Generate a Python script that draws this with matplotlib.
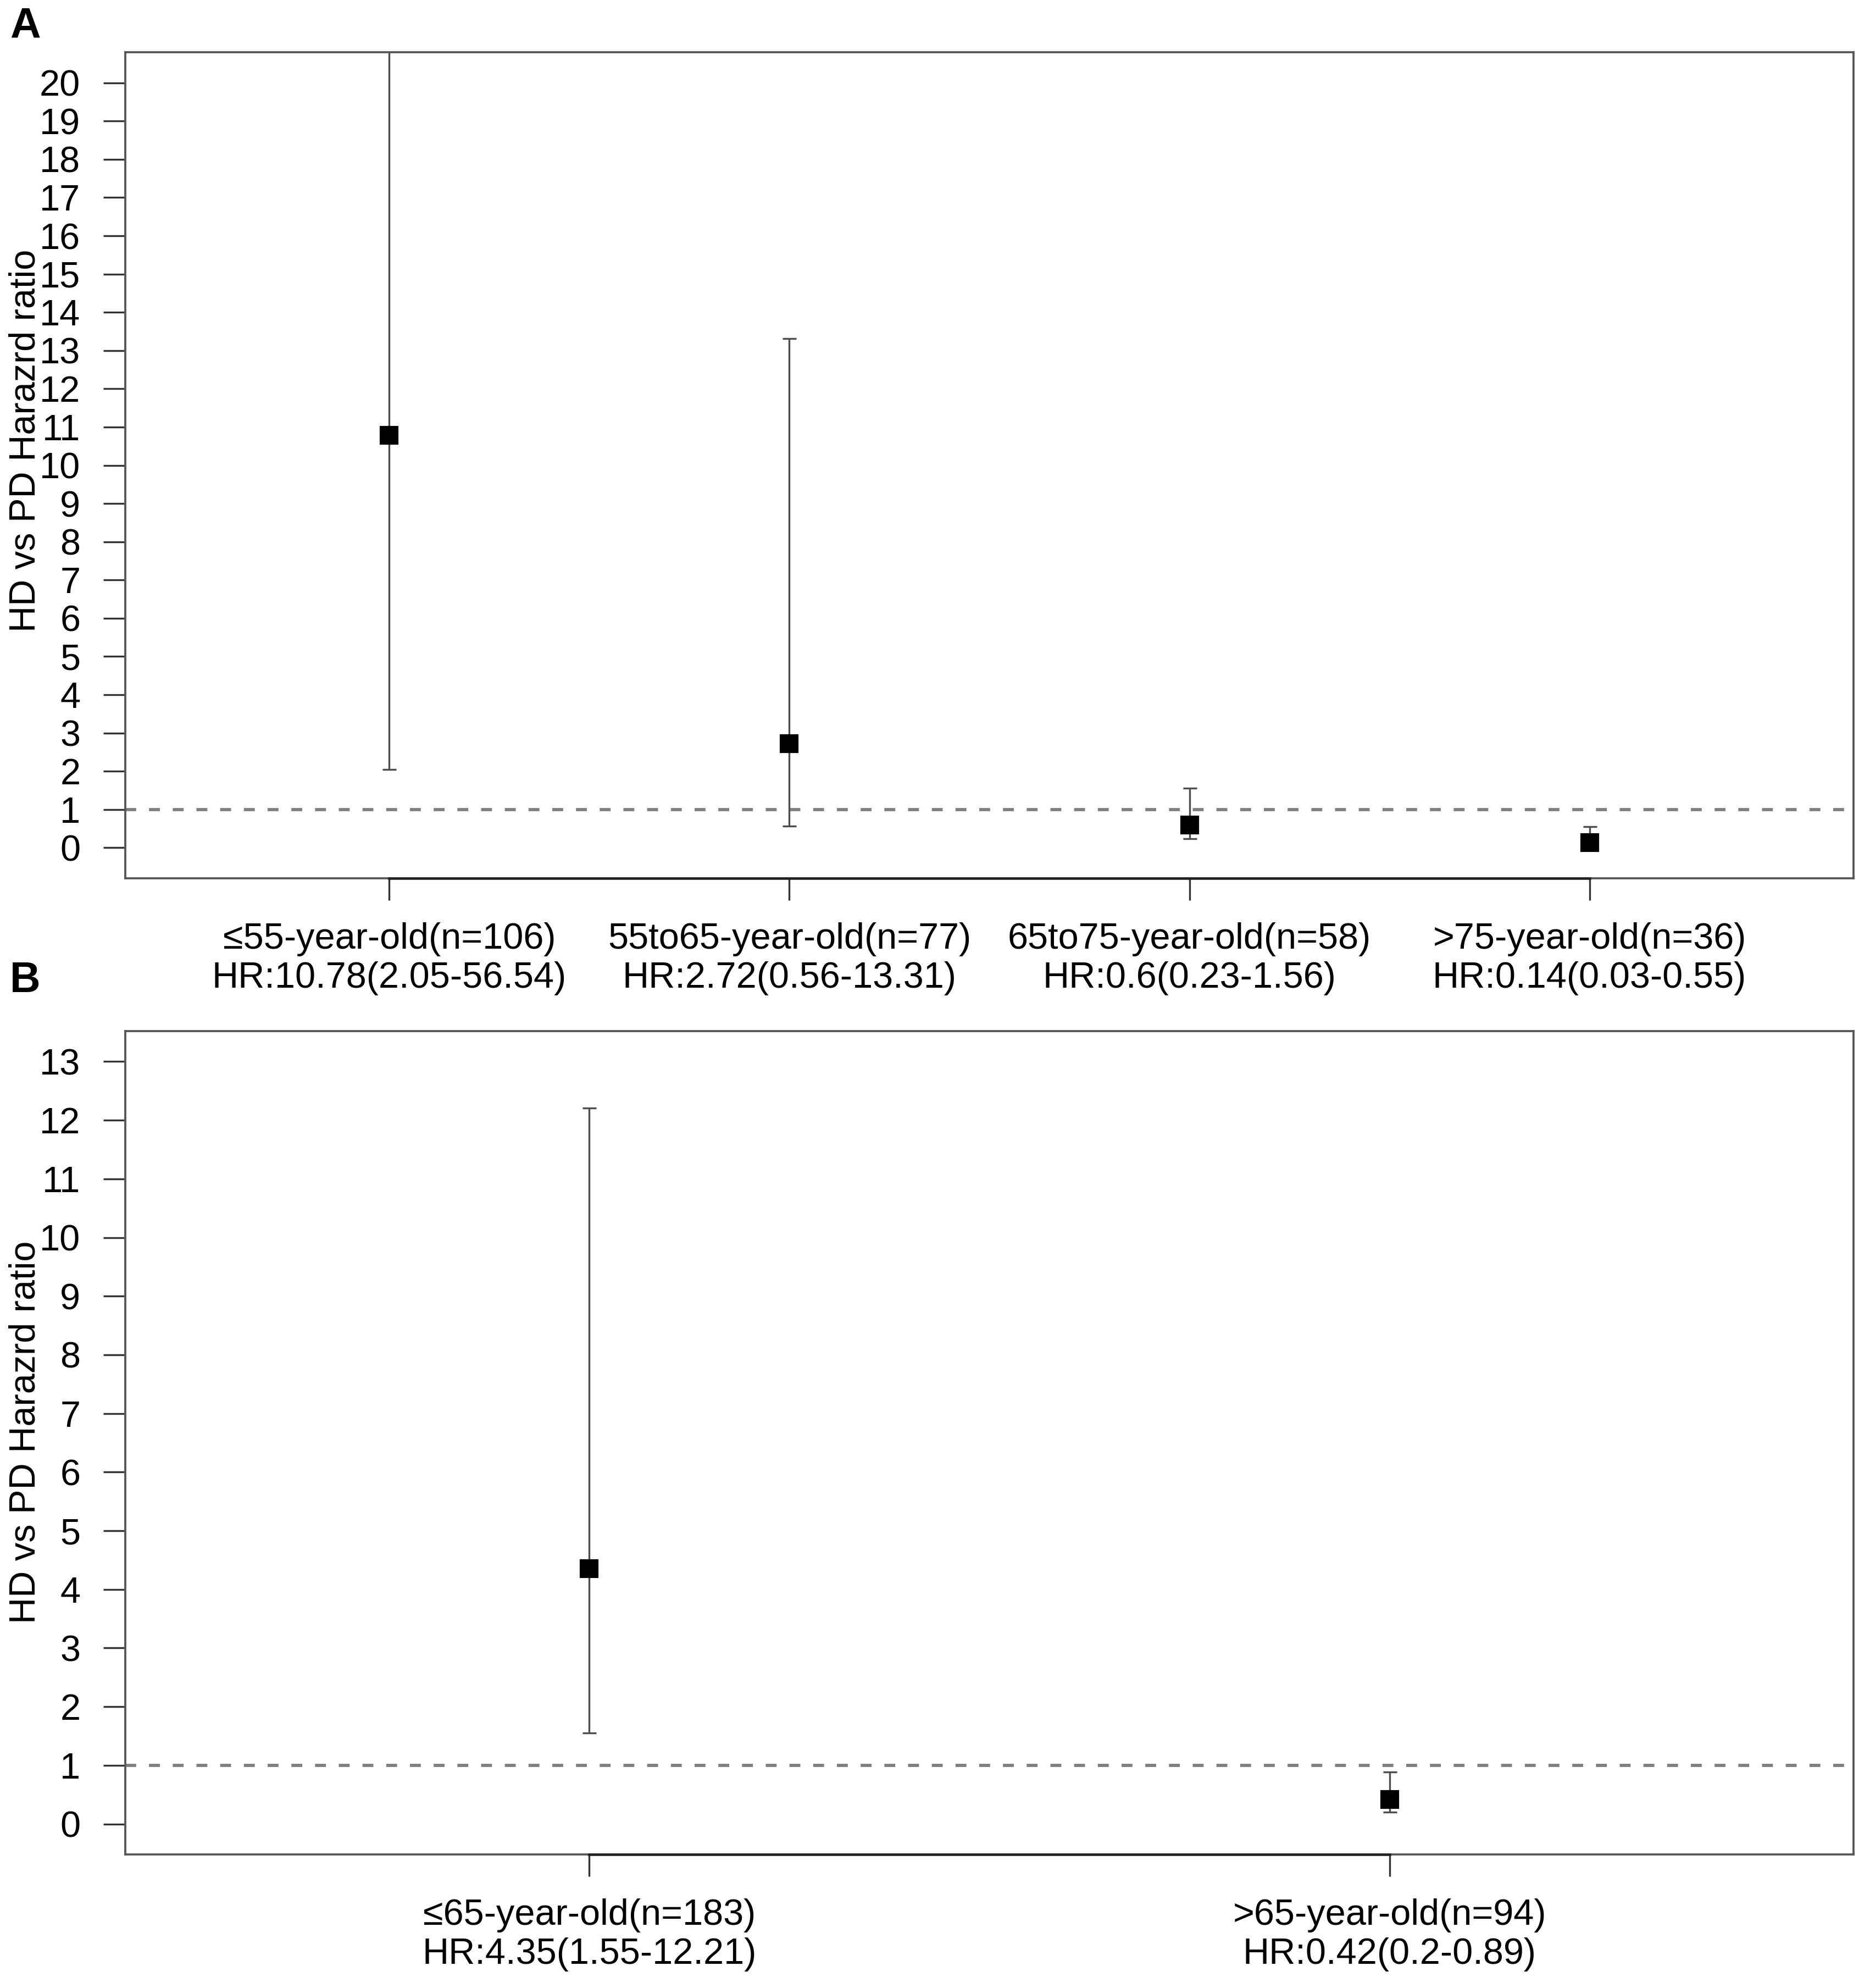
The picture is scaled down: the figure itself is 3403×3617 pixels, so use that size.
import matplotlib
matplotlib.use("Agg")
import matplotlib.pyplot as plt
import matplotlib.transforms as mtransforms

plt.rcParams["font.family"] = ["Liberation Sans", "DejaVu Sans"]
plt.rcParams["font.size"] = 16

# panel A: four age groups
groups_a = ["≤55-year-old(n=106)", "55to65-year-old(n=77)", "65to75-year-old(n=58)", ">75-year-old(n=36)"]
hr_a = [10.78, 2.72, 0.6, 0.14]
lo_a = [2.05, 0.56, 0.23, 0.03]
hi_a = [56.54, 13.31, 1.56, 0.55]
ymax_a = 20

# panel B: two age groups
groups_b = ["≤65-year-old(n=183)", ">65-year-old(n=94)"]
hr_b = [4.35, 0.42]
lo_b = [1.55, 0.2]
hi_b = [12.21, 0.89]
ymax_b = 13

W, H = 3403, 3617
DPI = 300
fig = plt.figure(figsize=(W / DPI, H / DPI), dpi=DPI)


def px_axes(left, top, right, bottom):
    return fig.add_axes([left / W, 1 - bottom / H, (right - left) / W, (bottom - top) / H])


def forest(ax, groups, hr, lo, hi, ymax, label_y):
    n = len(groups)
    x = list(range(1, n + 1))
    # R-like 4% extension of the ranges
    ax.set_xlim(0.5 - 0.04 * n, n + 0.5 + 0.04 * n)
    ax.set_ylim(-0.04 * ymax, ymax * 1.04)

    ax.axhline(1, color="#808080", lw=1.4, linestyle=(0, (3.4, 4.0)), zorder=1)

    err = [[h - l for h, l in zip(hr, lo)], [u - h for h, u in zip(hr, hi)]]
    ax.errorbar(x, hr, yerr=err, fmt="none", ecolor="#4d4d4d", elinewidth=0.8,
                capsize=3, capthick=0.8, zorder=2)
    ax.plot(x, hr, linestyle="none", marker="s", markersize=7, color="black", zorder=3)

    ax.set_yticks(range(0, ymax + 1))
    ax.set_xticks(x)
    ax.set_xticklabels([f"{g}\nHR:{h:g}({l:g}-{u:g})" for g, h, l, u in zip(groups, hr, lo, hi)])
    ax.tick_params(axis="both", direction="out", length=9.6, width=0.8, color="#333333",
                   labelsize=16, pad=10)
    ax.tick_params(axis="x", pad=9.5)

    for s in ax.spines.values():
        s.set_color("#555555")
        s.set_linewidth(0.9)

    # axis line only between first and last tick, like R's axis()
    trans = mtransforms.blended_transform_factory(ax.transData, ax.transAxes)
    ax.plot([x[0], x[-1]], [0, 0], color="#222222", lw=1.1, transform=trans,
            clip_on=False, zorder=4)

    ax.set_ylabel("HD vs PD Harazrd ratio", fontsize=16)
    ax.yaxis.set_label_coords(-0.048, label_y)


ax_a = px_axes(228, 95, 3373, 1598)
forest(ax_a, groups_a, hr_a, lo_a, hi_a, ymax_a, 0.53)

ax_b = px_axes(228, 1876, 3373, 3374)
forest(ax_b, groups_b, hr_b, lo_b, hi_b, ymax_b, 0.513)

fig.text(18 / W, 1 - 69 / H, "A", fontsize=18.5, fontweight="bold", ha="left", va="baseline")
fig.text(18 / W, 1 - 1805 / H, "B", fontsize=18.5, fontweight="bold", ha="left", va="baseline")

fig.savefig("out.png", dpi=DPI)
